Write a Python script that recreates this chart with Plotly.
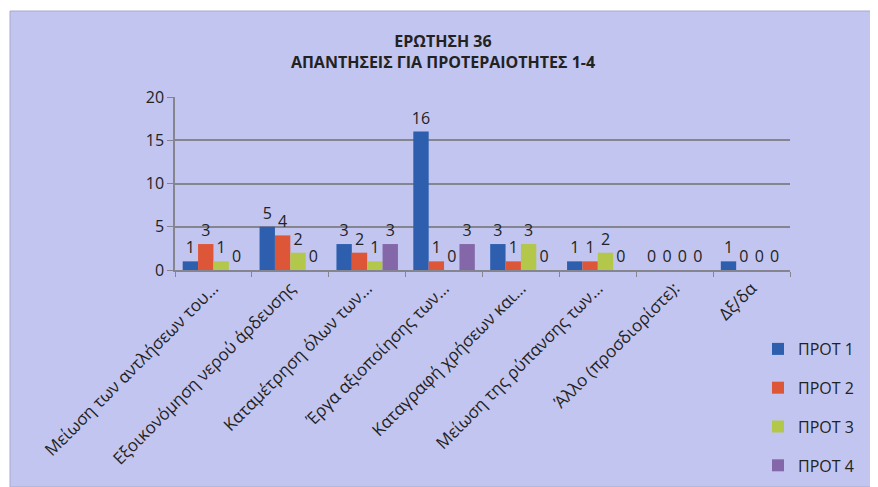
import plotly.graph_objects as go

categories = [
    "Μείωση των αντλήσεων του…",
    "Εξοικονόμηση νερού άρδευσης",
    "Καταμέτρηση όλων των…",
    "Έργα αξιοποίησης των…",
    "Καταγραφή χρήσεων και…",
    "Μείωση της ρύπανσης των…",
    "Άλλο (προσδιορίστε):",
    "Δξ/δα",
]
series_names = ["ΠΡΟΤ 1", "ΠΡΟΤ 2", "ΠΡΟΤ 3", "ΠΡΟΤ 4"]
prot1 = [1, 5, 3, 16, 3, 1, 0, 1]
prot2 = [3, 4, 2, 1, 1, 1, 0, 0]
prot3 = [1, 2, 1, 0, 3, 2, 0, 0]
prot4 = [0, 0, 3, 3, 0, 0, 0, 0]
y_ticks = [0, 5, 10, 15, 20]

colors = ["#2d5fae", "#de5638", "#b3c74a", "#8467a8"]
values = [prot1, prot2, prot3, prot4]

# page body has an 8px margin, so the figure is drawn 8px in from the window edge
W, H = 870, 479
ML, MR, MT, MB = 167, 88, 89, 217
BG = "#c2c5ef"
FONT = "Open Sans, Lato, sans-serif"

fig = go.Figure()
for i, (name, vals) in enumerate(zip(series_names, values)):
    fig.add_trace(go.Bar(
        x=categories, y=vals, name=name,
        marker=dict(color=colors[i], line=dict(color=colors[i], width=0)),
        text=[str(v) for v in vals], textposition="outside",
        textfont=dict(size=16, color="#222222", family=FONT),
        constraintext="none",
        cliponaxis=False, legendgroup=name,
    ))

pw = W - ML - MR
ph = H - MT - MB
fig.add_shape(type="rect", xref="paper", yref="paper",
              x0=-(ML - 2) / pw, x1=1 + MR / pw,
              y0=-MB / ph, y1=1 + (MT - 3) / ph,
              fillcolor=BG, line=dict(color="#a6a8cc", width=1), layer="below")

fig.update_layout(
    width=W, height=H,
    margin=dict(l=ML, r=MR, t=MT, b=MB, autoexpand=False),
    paper_bgcolor="white", plot_bgcolor=BG,
    font=dict(family=FONT, color="#222222"),
    title=dict(text="<b>ΕΡΩΤΗΣΗ 36<br>ΑΠΑΝΤΗΣΕΙΣ ΓΙΑ ΠΡΟΤΕΡΑΙΟΤΗΤΕΣ 1-4</b>",
               x=0.5, xanchor="center", y=1 - 39 / H, yanchor="top",
               font=dict(size=16, color="#222222", family=FONT)),
    barmode="group", bargap=0.2, bargroupgap=0.0,
    uniformtext=dict(minsize=16, mode="show"),
    showlegend=True,
    legend=dict(x=1 + (750 - (W - MR)) / pw, xanchor="left",
                y=1 - (324 - MT) / ph, yanchor="top",
                bgcolor="rgba(0,0,0,0)", font=dict(size=16, family=FONT),
                tracegroupgap=15, traceorder="grouped"),
    yaxis=dict(range=[0, 20], tickvals=y_ticks, showgrid=True,
               gridcolor="#85858f", gridwidth=1.5, zeroline=False,
               showline=True, linecolor="#85858f", linewidth=1.5,
               ticks="outside", ticklen=6, tickcolor="#85858f",
               tickfont=dict(size=16, color="#222222"), automargin=False),
    xaxis=dict(tickangle=-45, showline=True, linecolor="#85858f", linewidth=1.5,
               ticks="outside", ticklen=5, tickcolor="#85858f",
               tickfont=dict(size=17, color="#222222"),
               tickson="boundaries", automargin=False),
)

fig.write_html("out.html")
